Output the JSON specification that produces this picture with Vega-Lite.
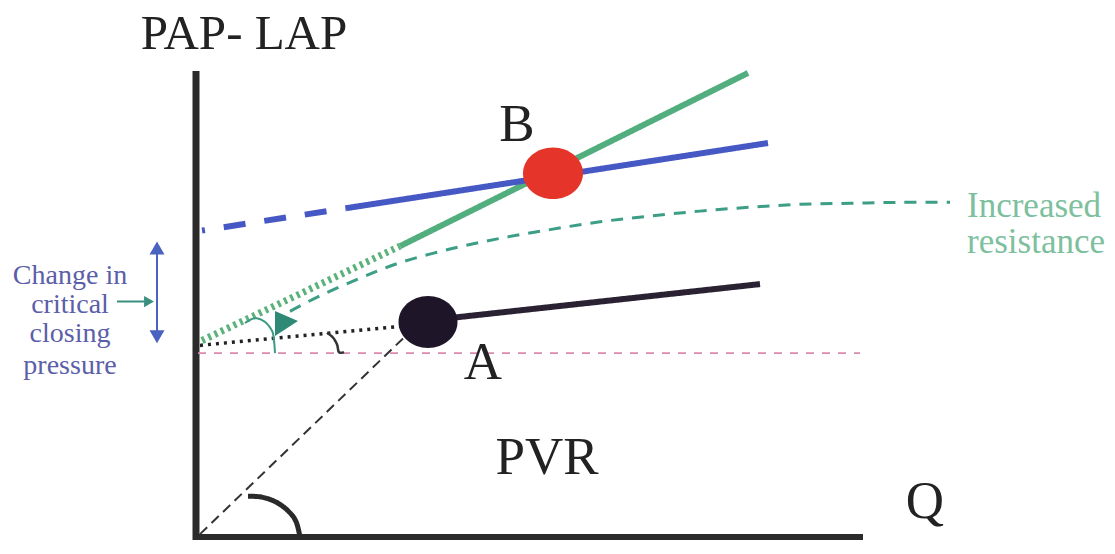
{
  "$schema": "https://vega.github.io/schema/vega-lite/v6.json",
  "width": 1115,
  "height": 554,
  "autosize": {"type": "fit", "contains": "padding"},
  "padding": 0,
  "background": "white",
  "config": {"view": {"stroke": null}},
  "resolve": {"scale": {"color": "independent", "strokeWidth": "independent", "strokeDash": "independent"}},
  "datasets": {
    "straight": [
      {"id": "yaxis", "o": 0, "x": 0, "y": 479},
      {"id": "yaxis", "o": 1, "x": 0, "y": -3},
      {"id": "xaxis", "o": 0, "x": -3, "y": 0},
      {"id": "xaxis", "o": 1, "x": 667, "y": 0},
      {"id": "bdiag", "o": 0, "x": 4, "y": 3},
      {"id": "bdiag", "o": 1, "x": 219, "y": 216},
      {"id": "bdot", "o": 0, "x": 4, "y": 197},
      {"id": "bdot", "o": 1, "x": 209, "y": 217},
      {"id": "pink", "o": 0, "x": 2, "y": 189},
      {"id": "pink", "o": 1, "x": 664, "y": 189},
      {"id": "bsolid", "o": 0, "x": 244, "y": 224},
      {"id": "bsolid", "o": 1, "x": 564, "y": 260},
      {"id": "gdot", "o": 0, "x": 6, "y": 202},
      {"id": "gdot", "o": 1, "x": 204, "y": 299},
      {"id": "gsolid", "o": 0, "x": 204, "y": 299},
      {"id": "gsolid", "o": 1, "x": 552, "y": 477},
      {"id": "bdash", "o": 0, "x": 6, "y": 315},
      {"id": "bdash", "o": 1, "x": 150, "y": 338},
      {"id": "bline", "o": 0, "x": 150, "y": 338},
      {"id": "bline", "o": 1, "x": 572, "y": 405},
      {"id": "varrow", "o": 0, "x": -39, "y": 300},
      {"id": "varrow", "o": 1, "x": -39, "y": 204},
      {"id": "harrow", "o": 0, "x": -79, "y": 242},
      {"id": "harrow", "o": 1, "x": -52, "y": 242}
    ],
    "curvy": [
      {"id": "oarc", "o": 0, "x": 52, "y": 42},
      {"id": "oarc", "o": 1, "x": 66, "y": 41},
      {"id": "oarc", "o": 2, "x": 80, "y": 36},
      {"id": "oarc", "o": 3, "x": 92, "y": 27},
      {"id": "oarc", "o": 4, "x": 100, "y": 16},
      {"id": "oarc", "o": 5, "x": 104, "y": 0},
      {"id": "sarc", "o": 0, "x": 131, "y": 210},
      {"id": "sarc", "o": 1, "x": 137, "y": 205},
      {"id": "sarc", "o": 2, "x": 141, "y": 198},
      {"id": "sarc", "o": 3, "x": 143, "y": 190},
      {"id": "sarc", "o": 4, "x": 148, "y": 190},
      {"id": "garc", "o": 0, "x": 49, "y": 220},
      {"id": "garc", "o": 1, "x": 59, "y": 225},
      {"id": "garc", "o": 2, "x": 69, "y": 221},
      {"id": "garc", "o": 3, "x": 76, "y": 212},
      {"id": "garc", "o": 4, "x": 78, "y": 202},
      {"id": "garc", "o": 5, "x": 79, "y": 189},
      {"id": "gcurve", "o": 0, "x": 94, "y": 232},
      {"id": "gcurve", "o": 1, "x": 124, "y": 248},
      {"id": "gcurve", "o": 2, "x": 164, "y": 266},
      {"id": "gcurve", "o": 3, "x": 204, "y": 282},
      {"id": "gcurve", "o": 4, "x": 254, "y": 296},
      {"id": "gcurve", "o": 5, "x": 304, "y": 307},
      {"id": "gcurve", "o": 6, "x": 354, "y": 316},
      {"id": "gcurve", "o": 7, "x": 404, "y": 324},
      {"id": "gcurve", "o": 8, "x": 454, "y": 330},
      {"id": "gcurve", "o": 9, "x": 504, "y": 335},
      {"id": "gcurve", "o": 10, "x": 554, "y": 339},
      {"id": "gcurve", "o": 11, "x": 604, "y": 342},
      {"id": "gcurve", "o": 12, "x": 654, "y": 343},
      {"id": "gcurve", "o": 13, "x": 704, "y": 344},
      {"id": "gcurve", "o": 14, "x": 754, "y": 344}
    ],
    "dots": [
      {"id": "A", "x": 232, "y": 221},
      {"id": "B", "x": 357, "y": 374}
    ],
    "heads": [
      {"id": "up", "x": -39, "y": 297},
      {"id": "down", "x": -39, "y": 206},
      {"id": "right", "x": -47, "y": 242},
      {"id": "green", "x": 89, "y": 220}
    ],
    "labels": [
      {"kind": "big", "label": "B", "x": 321, "y": 407},
      {"kind": "big", "label": "A", "x": 287, "y": 162},
      {"kind": "big", "label": "PVR", "x": 351, "y": 65},
      {"kind": "big", "label": "Q", "x": 729, "y": 20},
      {"kind": "title", "label": "PAP- LAP", "x": 48, "y": 502},
      {"kind": "note", "label": "Increased", "x": 771, "y": 329},
      {"kind": "note", "label": "resistance", "x": 771, "y": 292},
      {"kind": "side", "label": "Change in", "x": -126, "y": 260},
      {"kind": "side", "label": "critical", "x": -126, "y": 230},
      {"kind": "side", "label": "closing", "x": -126, "y": 200},
      {"kind": "side", "label": "pressure", "x": -126, "y": 168}
    ]
  },
  "encoding": {
    "x": {"field": "x", "type": "quantitative", "axis": null, "scale": {"domain": [-196, 919], "nice": false, "zero": false}},
    "y": {"field": "y", "type": "quantitative", "axis": null, "scale": {"domain": [-2, 552], "nice": false, "zero": false}}
  },
  "layer": [
    {
      "data": {"name": "straight"},
      "mark": {"type": "line", "interpolate": "linear"},
      "encoding": {
        "detail": {"field": "id", "type": "nominal"},
        "order": {"field": "o", "type": "quantitative"},
        "color": {"field": "id", "type": "nominal", "legend": null,
          "scale": {"domain": ["yaxis", "xaxis", "bdiag", "bdot", "pink", "bsolid", "gdot", "gsolid", "bdash", "bline", "varrow", "harrow"],
                    "range": ["#2b2b2b", "#2b2b2b", "#333333", "#222222", "#d98cb0", "#2a2233", "#5bb27a", "#52ae7e", "#4658c4", "#4658c4", "#4a62c0", "#3b8f80"]}},
        "strokeWidth": {"field": "id", "type": "nominal", "legend": null,
          "scale": {"type": "ordinal", "domain": ["yaxis", "xaxis", "bdiag", "bdot", "pink", "bsolid", "gdot", "gsolid", "bdash", "bline", "varrow", "harrow"],
                    "range": [7, 6, 2, 3.5, 1.8, 6, 7, 6, 6, 6, 2, 2]}},
        "strokeDash": {"field": "id", "type": "nominal", "legend": null,
          "scale": {"domain": ["yaxis", "xaxis", "bdiag", "bdot", "pink", "bsolid", "gdot", "gsolid", "bdash", "bline", "varrow", "harrow"],
                    "range": [[1, 0], [1, 0], [10, 6], [3, 5], [8, 8], [1, 0], [3, 4], [1, 0], [3, 19, 22, 19, 22, 19, 22, 19], [1, 0], [1, 0], [1, 0]]}}
      }
    },
    {
      "data": {"name": "curvy"},
      "mark": {"type": "line", "interpolate": "cardinal"},
      "encoding": {
        "detail": {"field": "id", "type": "nominal"},
        "order": {"field": "o", "type": "quantitative"},
        "color": {"field": "id", "type": "nominal", "legend": null,
          "scale": {"domain": ["oarc", "sarc", "garc", "gcurve"], "range": ["#2a2a2a", "#333333", "#3c9a82", "#3d9e86"]}},
        "strokeWidth": {"field": "id", "type": "nominal", "legend": null,
          "scale": {"type": "ordinal", "domain": ["oarc", "sarc", "garc", "gcurve"], "range": [5, 2.5, 2, 3]}},
        "strokeDash": {"field": "id", "type": "nominal", "legend": null,
          "scale": {"domain": ["oarc", "sarc", "garc", "gcurve"], "range": [[1, 0], [1, 0], [1, 0], [12, 9]]}}
      }
    },
    {
      "data": {"name": "heads"},
      "transform": [{"filter": "datum.id === 'up'"}],
      "mark": {"type": "point", "shape": "triangle-up", "filled": true, "size": 225, "color": "#4a62c0", "opacity": 1}
    },
    {
      "data": {"name": "heads"},
      "transform": [{"filter": "datum.id === 'down'"}],
      "mark": {"type": "point", "shape": "triangle-down", "filled": true, "size": 225, "color": "#4a62c0", "opacity": 1}
    },
    {
      "data": {"name": "heads"},
      "transform": [{"filter": "datum.id === 'right'"}],
      "mark": {"type": "point", "shape": "triangle-right", "filled": true, "size": 130, "color": "#3b8f80", "opacity": 1}
    },
    {
      "data": {"name": "heads"},
      "transform": [{"filter": "datum.id === 'green'"}],
      "mark": {"type": "point", "shape": "M -0.77 -0.92 L -0.77 1 L 1 -0.15 Z", "filled": true, "size": 676, "color": "#2e8a74", "opacity": 1}
    },
    {
      "data": {"name": "dots"},
      "transform": [{"filter": "datum.id === 'A'"}],
      "mark": {"type": "point", "shape": "M -1 0 A 1 0.88 0 1 1 1 0 A 1 0.88 0 1 1 -1 0 Z", "filled": true, "size": 3481, "color": "#1e1628", "opacity": 1}
    },
    {
      "data": {"name": "dots"},
      "transform": [{"filter": "datum.id === 'B'"}],
      "mark": {"type": "point", "shape": "M -1 0 A 1 0.86 0 1 1 1 0 A 1 0.86 0 1 1 -1 0 Z", "filled": true, "size": 3600, "color": "#e5352b", "opacity": 1}
    },
    {
      "data": {"name": "labels"},
      "transform": [{"filter": "datum.kind === 'big'"}],
      "mark": {"type": "text", "font": "Liberation Serif", "fontSize": 53, "align": "center", "baseline": "alphabetic", "color": "#222222"},
      "encoding": {"text": {"field": "label", "type": "nominal"}}
    },
    {
      "data": {"name": "labels"},
      "transform": [{"filter": "datum.kind === 'title'"}],
      "mark": {"type": "text", "font": "Liberation Serif", "fontSize": 49, "align": "center", "baseline": "alphabetic", "color": "#222222"},
      "encoding": {"text": {"field": "label", "type": "nominal"}}
    },
    {
      "data": {"name": "labels"},
      "transform": [{"filter": "datum.kind === 'note'"}],
      "mark": {"type": "text", "font": "Liberation Serif", "fontSize": 35, "align": "left", "baseline": "alphabetic", "color": "#7dbf9e"},
      "encoding": {"text": {"field": "label", "type": "nominal"}}
    },
    {
      "data": {"name": "labels"},
      "transform": [{"filter": "datum.kind === 'side'"}],
      "mark": {"type": "text", "font": "Liberation Serif", "fontSize": 28, "align": "center", "baseline": "alphabetic", "color": "#5b5ea8"},
      "encoding": {"text": {"field": "label", "type": "nominal"}}
    }
  ]
}
